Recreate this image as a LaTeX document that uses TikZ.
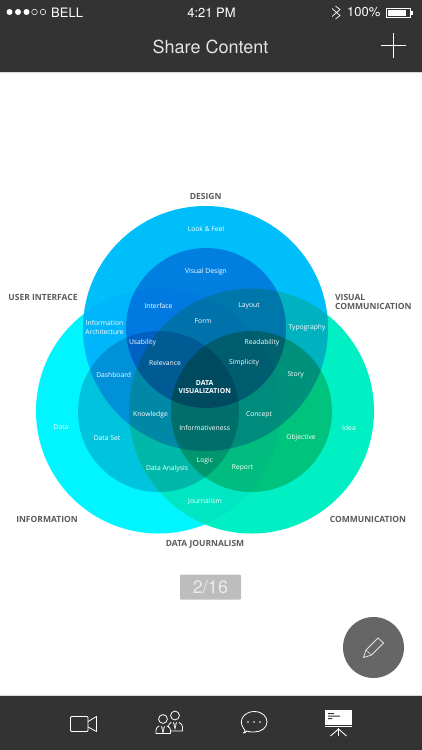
\documentclass[tikz,border=0pt]{standalone}
\usepackage{fontspec}
\setmainfont{Open Sans}
\newfontfamily\uifont{TeX Gyre Heros}
\definecolor{bardark}{HTML}{333333}
\definecolor{labelgray}{HTML}{5A5B60}
\definecolor{uilight}{HTML}{E4E4E4}
\definecolor{dsgOuter}{HTML}{00BEFA}
\definecolor{dsgInner}{HTML}{00ABE5}
\definecolor{infOuter}{HTML}{00F5FF}
\definecolor{infInner}{HTML}{FFCCDE}
\definecolor{cmOuter}{HTML}{00F0C3}
\definecolor{cmInner}{HTML}{FFD1A6}
\tikzset{
  venn/.style={blend mode=multiply,draw=none},
  vlabel/.style={text=white,font=\fontsize{6.75}{8.6}\selectfont,inner sep=0pt,align=center,yshift=-0.8pt},
  cat/.style={text=labelgray,font=\fontsize{8.5}{9.2}\selectfont\bfseries,inner sep=0pt,align=left,yshift=-0.8pt},
  status/.style={text=white,font=\fontsize{13}{15}\selectfont\uifont,inner sep=0pt},
  icon/.style={draw=white,line width=0.8pt,line join=round,line cap=round},
}
\begin{document}
\begin{tikzpicture}[x=1pt,y=-1pt]
\useasboundingbox (0,0) rectangle (422,750);
\fill[white] (0,0) rectangle (422,750);
% top bar
\fill[bardark] (0,0) rectangle (422,71.5);
\fill[black!15] (0,71.5) rectangle (422,72.5);
\foreach \dx in {9.5,18,26.5} \fill[white] (\dx,12) circle (3);
\foreach \dx in {34.5,43} \draw[white,line width=0.5pt] (\dx,12) circle (2.8);
\node[status,anchor=west] (bell) at (51,12.5) {BELL};
\node[status] (clock) at (211.5,12.5) {4:21 PM};
\draw[white,line width=0.7pt] (332,8.5) -- (340,15.5) -- (335.5,19) (335.5,6) -- (340,9.5) -- (332,16.5);
\node[status,anchor=west] (batt) at (347,12.5) {100\%};
\draw[white,line width=0.7pt] (386.5,8) rectangle (410,17);
\fill[white] (388,9.5) rectangle (406,15.5);
\fill[white] (410.5,10.5) rectangle (412.5,14.5);
\node[text=uilight,font=\fontsize{18}{20}\selectfont\uifont,inner sep=0pt] (title) at (210.5,46.5) {Share Content};
\draw[white,line width=1.8pt] (381,45.5) -- (406,45.5) (393.5,33) -- (393.5,58);
% venn
\fill[venn,dsgOuter] (205.5,328.5) circle (122.5);
\fill[venn,infOuter] (158.5,411) circle (122.5);
\fill[venn,cmOuter] (251.5,411) circle (122.5);
\fill[venn,dsgInner] (206,328) circle (80);
\fill[venn,infInner] (158.5,411.5) circle (80.5);
\fill[venn,cmInner] (251.5,411.5) circle (80.5);
% labels
\node[vlabel] (lookfeel) at (206,228) {Look \& Feel};
\node[vlabel] (visdes) at (206,270.5) {Visual Design};
\node[vlabel] (iface) at (158.5,305.5) {Interface};
\node[vlabel] (layout) at (249,305.5) {Layout};
\node[vlabel] (form) at (203,320.5) {Form};
\node[vlabel] (infoarch) at (104.5,326.5) {Information\\Architecture};
\node[vlabel] (typo) at (307,327) {Typography};
\node[vlabel] (usab) at (142.5,342) {Usability};
\node[vlabel] (read) at (262,342) {Readability};
\node[vlabel] (relev) at (165,362) {Relevance};
\node[vlabel] (simpl) at (244,362) {Simplicity};
\node[vlabel] (dash) at (113.7,374.5) {Dashboard};
\node[vlabel] (story) at (295.7,374.5) {Story};
\node[vlabel,font=\fontsize{6.9}{7.8}\selectfont\bfseries] (dataviz) at (204.7,386.3) {DATA\\VISUALIZATION};
\node[vlabel] (know) at (150.5,414) {Knowledge};
\node[vlabel] (concept) at (259,414) {Concept};
\node[vlabel] (informat) at (204.7,427) {Informativeness};
\node[vlabel] (data) at (61,426.7) {Data};
\node[vlabel] (dataset) at (107,437) {Data Set};
\node[vlabel] (object) at (301,437) {Objective};
\node[vlabel] (idea) at (349,426.7) {Idea};
\node[vlabel] (logic) at (205,460) {Logic};
\node[vlabel] (danal) at (167,467.5) {Data Analysis};
\node[vlabel] (report) at (242.5,467.5) {Report};
\node[vlabel] (journ) at (205,500.5) {Journalism};
\node[cat] (cdesign) at (205.7,196) {DESIGN};
\node[cat] (cuser) at (43,297) {USER INTERFACE};
\node[cat,anchor=west] (cvis) at (335,301.5) {VISUAL\\COMMUNICATION};
\node[cat] (cinfo) at (47,519) {INFORMATION};
\node[cat] (ccomm) at (368,519) {COMMUNICATION};
\node[cat] (cjourn) at (205,544) {DATA JOURNALISM};
% badge
\fill[black!26,rounded corners=1pt] (180,574.5) rectangle (241,599.5);
\node[text=white!92!black,font=\fontsize{18}{20}\selectfont\uifont,inner sep=0pt] (page) at (210.5,587) {2/16};
% pen
\fill[black!60] (373.5,647.5) circle (30.5);
\draw[icon,draw=uilight] (363.5,657.5) -- (366,650) -- (378,638) -- (383.5,643) -- (371.5,655) -- cycle;
\draw[icon,draw=uilight,line width=0.5pt] (366,650) -- (371.5,655);
% bottom bar
\fill[bardark] (0,696) rectangle (422,750);
\fill[black!15] (0,695) rectangle (422,696);
% camera
\draw[icon,rounded corners=1pt] (70.5,716.5) rectangle (88,731.5);
\draw[icon] (88,721.5) -- (96.5,716.5) -- (96.5,731.5) -- (88,727);
% people: back figure, then front figure over it
\draw[icon] (175,715.5) circle (4.4);
\draw[icon] (171,722.5) .. controls (169,723.5) and (168.5,725) .. (168.5,727) (179,722.5) .. controls (181.5,723.5) and (182.5,725) .. (182.5,727) -- (182.5,731) -- (171,731);
\draw[icon] (163,719) circle (4.4);
\draw[icon] (159,726) .. controls (157,727) and (156,728.5) .. (156,730) -- (156,733.5) -- (170.5,733.5) -- (170.5,730) .. controls (170.5,728.5) and (169.5,727) .. (167,726);
\draw[black!45,line width=1.2pt] (163,726.5) -- (163,732) (175,722.5) -- (175,728);
\draw[white,line width=0.5pt] (161.3,726) -- (163,733) -- (164.7,726) (173.3,722) -- (175,729) -- (176.7,722);
% chat
\draw[icon] (243.5,733) .. controls (246,731) and (245,730) .. (244,729) .. controls (237,720) and (245,711.5) .. (254,711.5) .. controls (263,711.5) and (267,717) .. (267,722) .. controls (267,728) and (261,732) .. (254,732) .. controls (251,732) and (249,732) .. (247,731) .. controls (246,732) and (245,733) .. (243.5,733);
\foreach \dx in {248,254,260} \fill[white] (\dx,722) circle (0.9);
% presentation
\fill[white] (325,710) rectangle (352,727);
\draw[bardark,line width=0.5pt] (325,725) -- (352,725);
\fill[bardark] (328,713) rectangle (334,714) (328,715.5) rectangle (340,716.5) (328,718) rectangle (332,719);
\draw[white,line width=0.9pt] (338.5,728) -- (338.5,736) (338.5,729) -- (330.5,736) (338.5,729) -- (346.5,736);
\end{tikzpicture}
\end{document}
